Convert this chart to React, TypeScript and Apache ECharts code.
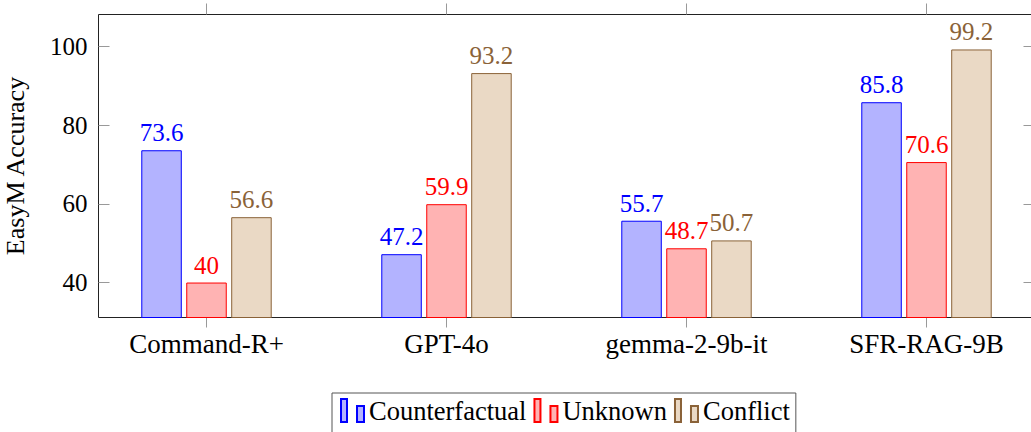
import React, { useEffect, useRef } from "react";
import * as echarts from "echarts";

const categories = ["Command-R+", "GPT-4o", "gemma-2-9b-it", "SFR-RAG-9B"];
const counterfactual = [73.6, 47.2, 55.7, 85.8];
const unknown = [40, 59.9, 48.7, 70.6];
const conflict = [56.6, 93.2, 50.7, 99.2];
const yTicks = [40, 60, 80, 100];
const seriesNames = ["Counterfactual", "Unknown", "Conflict"];

const FONT = "Liberation Serif";
const legendIcon = "path://M0,0 L6,0 L6,23 L0,23 Z M16,7 L23,7 L23,23 L16,23 Z";

export default function App() {
  const ref = useRef<HTMLDivElement>(null);
  useEffect(() => {
    if (!ref.current) return;
    const chart = echarts.init(ref.current, null, { renderer: "svg" });
    const xIdx = categories.map((_, i) => i);
    const mk = (name: string, vals: number[], fill: string, stroke: string, labelColor: string) => ({
      type: "bar",
      name,
      data: vals.map((v, i) => [i, v]),
      barWidth: 40.5,
      barGap: "11%",
      clip: true,
      itemStyle: { color: fill, borderColor: stroke, borderWidth: 1 },
      label: {
        show: true,
        position: "top",
        distance: 5,
        color: labelColor,
        fontFamily: FONT,
        fontSize: 25,
        formatter: (p: any) => String(p.value[1]),
      },
    });
    chart.setOption({
      animation: false,
      backgroundColor: "#fff",
      textStyle: { fontFamily: FONT },
      grid: {
        left: 98.5,
        top: 14.5,
        width: 936,
        height: 303,
        show: true,
        borderColor: "#222",
        borderWidth: 1,
        backgroundColor: "transparent",
        containLabel: false,
        outerBoundsMode: "none",
      },
      legend: {
        left: 332,
        top: 393,
        orient: "horizontal",
        icon: legendIcon,
        itemWidth: 23,
        itemHeight: 23,
        itemGap: 7,
        padding: [4, 6, 14, 8],
        borderColor: "#555",
        borderWidth: 1,
        textStyle: { fontFamily: FONT, fontSize: 26.5, color: "#000" },
        data: seriesNames,
      },
      xAxis: [
        {
          type: "value",
          min: -0.45,
          max: 3.45,
          position: "bottom",
          axisLine: { show: false, onZero: false },
          splitLine: { show: false },
          axisTick: { show: true, inside: false, length: 10, customValues: xIdx, lineStyle: { color: "#999" } },
          axisLabel: {
            show: true,
            customValues: xIdx,
            margin: 13,
            fontFamily: FONT,
            fontSize: 27,
            color: "#000",
            formatter: (v: number) => categories[Math.round(v)] ?? "",
          },
        },
        {
          type: "value",
          min: -0.45,
          max: 3.45,
          position: "top",
          axisLine: { show: false, onZero: false },
          splitLine: { show: false },
          axisTick: { show: true, inside: false, length: 11, customValues: xIdx, lineStyle: { color: "#999" } },
          axisLabel: { show: false },
        },
      ],
      yAxis: [
        {
          type: "value",
          min: 31.12,
          max: 108.08,
          position: "left",
          name: "EasyM Accuracy",
          nameLocation: "middle",
          nameGap: 70,
          nameTextStyle: { fontFamily: FONT, fontSize: 26, color: "#000" },
          axisLine: { show: false, onZero: false },
          splitLine: { show: false },
          axisTick: { show: true, inside: true, length: 11, customValues: yTicks, lineStyle: { color: "#999" } },
          axisLabel: { show: true, customValues: yTicks, margin: 11, fontFamily: FONT, fontSize: 25, color: "#000" },
        },
        {
          type: "value",
          min: 31.12,
          max: 108.08,
          position: "right",
          axisLine: { show: false, onZero: false },
          splitLine: { show: false },
          axisTick: { show: true, inside: true, length: 11, customValues: yTicks, lineStyle: { color: "#999" } },
          axisLabel: { show: false },
        },
      ],
      series: [
        mk(seriesNames[0], counterfactual, "#b3b3ff", "#0000ff", "#0000ff"),
        mk(seriesNames[1], unknown, "#ffb3b3", "#ff0000", "#ff0000"),
        mk(seriesNames[2], conflict, "#ead9c5", "#8a6238", "#8a6238"),
      ],
    });
    return () => chart.dispose();
  }, []);
  return <div ref={ref} style={{ position: "fixed", left: 0, top: 0, width: 1031, height: 432 }} />;
}
